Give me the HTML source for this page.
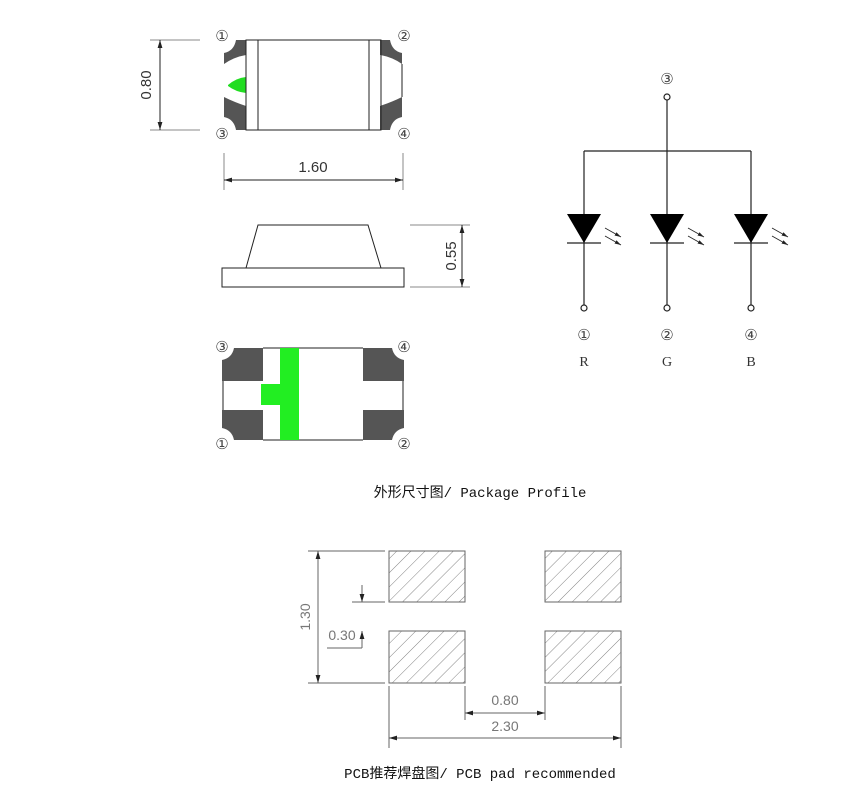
<!DOCTYPE html>
<html><head><meta charset="utf-8"><style>
html,body{margin:0;padding:0;background:#fff;}
svg{display:block;}
</style></head><body>
<svg width="862" height="802" viewBox="0 0 862 802" xmlns="http://www.w3.org/2000/svg" font-family="Liberation Sans, sans-serif">
<defs>
<pattern id="h" patternUnits="userSpaceOnUse" width="10" height="10" patternTransform="rotate(45)">
<line x1="0" y1="0" x2="0" y2="10" stroke="#666" stroke-width="0.8"/>
</pattern>
<marker id="a" viewBox="0 0 10 6" refX="10" refY="3" markerWidth="8" markerHeight="5" orient="auto-start-reverse"><path d="M0,0 L10,3 L0,6 z" fill="#222"/></marker>
</defs>
<g fill="#555" stroke="none">
<!-- top view pads -->
<path d="M236,40 H246 V55 Q234,57 224,64 V53 Q234,51 236,40 Z"/>
<path d="M224,97 Q234,102 246,106 V130 H236 Q234,119 224,117 Z"/>
<path d="M390,40 H380 V55 Q392,57 402,64 V53 Q392,51 390,40 Z"/>
<path d="M402,97 Q392,102 380,106 V130 H390 Q392,119 402,117 Z"/>
<!-- bottom pads -->
<path d="M234,348 H263 V381 H222 V360 Q232,358 234,348 Z"/>
<path d="M222,410 H263 V440 H234 Q232,430 222,428 Z"/>
<path d="M363,348 H392 Q394,358 404,360 V381 H363 Z"/>
<path d="M363,410 H404 V428 Q394,430 392,440 H363 Z"/>
</g>
<path d="M228,85 Q236,78 246,77 V93 Q236,92 228,86 Z" fill="#22dd22"/>
<g fill="none" stroke="#222" stroke-width="1">
<rect x="246" y="40" width="135" height="90"/>
<line x1="258" y1="40" x2="258" y2="130"/>
<line x1="369" y1="40" x2="369" y2="130"/>
<line x1="402" y1="64" x2="402" y2="97"/>
<line x1="150" y1="40" x2="200" y2="40" stroke="#888"/>
<line x1="150" y1="130" x2="200" y2="130" stroke="#888"/>
<line x1="160" y1="40" x2="160" y2="130" marker-start="url(#a)" marker-end="url(#a)"/>
<line x1="224" y1="153" x2="224" y2="190" stroke="#888"/>
<line x1="403" y1="153" x2="403" y2="190" stroke="#888"/>
<line x1="224" y1="180" x2="403" y2="180" marker-start="url(#a)" marker-end="url(#a)"/>
<!-- side -->
<rect x="222" y="268" width="182" height="19"/>
<path d="M246,268 L258,225 H368 L381,268"/>
<line x1="410" y1="225" x2="470" y2="225" stroke="#888"/>
<line x1="410" y1="287" x2="470" y2="287" stroke="#888"/>
<line x1="462" y1="225" x2="462" y2="287" marker-start="url(#a)" marker-end="url(#a)"/>
<!-- bottom outline -->
<line x1="263" y1="348" x2="363" y2="348"/>
<line x1="263" y1="440" x2="363" y2="440"/>
<line x1="223" y1="381" x2="223" y2="410"/>
<line x1="403" y1="381" x2="403" y2="410"/>
</g>
<rect x="280" y="348" width="19" height="92" fill="#22ee22"/>
<rect x="261" y="384" width="20" height="21" fill="#22ee22"/>
<g font-size="15" fill="#444" text-anchor="middle" font-family="DejaVu Sans, sans-serif">
<text x="222" y="41">①</text><text x="404" y="41">②</text>
<text x="222" y="139">③</text><text x="404" y="139">④</text>
<text x="222" y="352">③</text><text x="404" y="352">④</text>
<text x="222" y="449">①</text><text x="404" y="449">②</text>
<text x="667" y="84">③</text>
<text x="584" y="340">①</text><text x="667" y="340">②</text><text x="751" y="340">④</text>
</g>
<g font-size="15" fill="#333" text-anchor="middle">
<text x="313" y="172">1.60</text>
<text transform="translate(151,85) rotate(-90)">0.80</text>
<text transform="translate(456,256) rotate(-90)">0.55</text>
</g>
<g font-family="Liberation Serif, serif" font-size="14" fill="#333" text-anchor="middle">
<text x="584" y="366">R</text><text x="667" y="366">G</text><text x="751" y="366">B</text>
</g>
<!-- schematic -->
<g stroke="#222" stroke-width="1.2" fill="none">
<circle cx="667" cy="97" r="3"/>
<line x1="667" y1="100" x2="667" y2="151"/>
<line x1="584" y1="151" x2="751" y2="151"/>
<line x1="584" y1="151" x2="584" y2="305"/>
<line x1="667" y1="151" x2="667" y2="305"/>
<line x1="751" y1="151" x2="751" y2="305"/>
<circle cx="584" cy="308" r="3"/><circle cx="667" cy="308" r="3"/><circle cx="751" cy="308" r="3"/>
<line x1="567" y1="243" x2="601" y2="243"/>
<line x1="650" y1="243" x2="684" y2="243"/>
<line x1="734" y1="243" x2="768" y2="243"/>
</g>
<g fill="#000">
<path d="M567,214 H601 L584,243 Z"/>
<path d="M650,214 H684 L667,243 Z"/>
<path d="M734,214 H768 L751,243 Z"/>
</g>
<g stroke="#222" stroke-width="0.8" marker-end="url(#a)">
<line x1="605" y1="228" x2="621" y2="237"/><line x1="605" y1="236" x2="621" y2="245"/>
<line x1="688" y1="228" x2="704" y2="237"/><line x1="688" y1="236" x2="704" y2="245"/>
<line x1="772" y1="228" x2="788" y2="237"/><line x1="772" y1="236" x2="788" y2="245"/>
</g>
<text x="480" y="497" text-anchor="middle" font-size="14" fill="#111" font-family="Liberation Mono, Noto Sans CJK SC, monospace">外形尺寸图/ Package Profile</text>
<!-- PCB -->
<g stroke="#666" stroke-width="1">
<rect x="389" y="551" width="76" height="51" fill="url(#h)"/>
<rect x="545" y="551" width="76" height="51" fill="url(#h)"/>
<rect x="389" y="631" width="76" height="52" fill="url(#h)"/>
<rect x="545" y="631" width="76" height="52" fill="url(#h)"/>
<line x1="308" y1="551" x2="385" y2="551"/>
<line x1="308" y1="683" x2="385" y2="683"/>
<line x1="318" y1="551" x2="318" y2="683" marker-start="url(#a)" marker-end="url(#a)"/>
<line x1="352" y1="602" x2="385" y2="602"/>
<line x1="327" y1="648" x2="362" y2="648"/>
<line x1="362" y1="585" x2="362" y2="602" marker-end="url(#a)"/>
<line x1="362" y1="648" x2="362" y2="631" marker-end="url(#a)"/>
<line x1="389" y1="686" x2="389" y2="748"/>
<line x1="465" y1="686" x2="465" y2="720"/>
<line x1="545" y1="686" x2="545" y2="720"/>
<line x1="621" y1="686" x2="621" y2="748"/>
<line x1="465" y1="713" x2="545" y2="713" marker-start="url(#a)" marker-end="url(#a)"/>
<line x1="389" y1="738" x2="621" y2="738" marker-start="url(#a)" marker-end="url(#a)"/>
</g>
<g font-size="14" fill="#777" text-anchor="middle">
<text transform="translate(310,617) rotate(-90)">1.30</text>
<text x="342" y="640">0.30</text>
<text x="505" y="705">0.80</text>
<text x="505" y="731">2.30</text>
</g>
<text x="480" y="778" text-anchor="middle" font-size="14" fill="#111" font-family="Liberation Mono, Noto Sans CJK SC, monospace">PCB推荐焊盘图/ PCB pad recommended</text>
</svg>
</body></html>
